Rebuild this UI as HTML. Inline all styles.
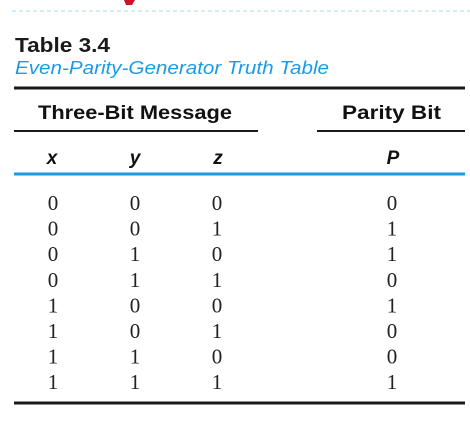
<!DOCTYPE html>
<html><head><meta charset="utf-8"><style>
html,body{margin:0;padding:0;background:#fff;width:470px;height:430px;overflow:hidden}
svg{display:block}
</style></head><body>
<svg width="470" height="430" viewBox="0 0 470 430">
  <path d="M124 0 L135 0 L132 5 L126 5 Z" fill="#d0112b"/>
  <line x1="12" y1="11" x2="470" y2="11" stroke="#a8d8e8" stroke-width="1" stroke-dasharray="4,3"/>
  <text x="15" y="52" font-family="Liberation Sans, sans-serif" font-weight="bold" font-size="20" fill="#1a1a1a" textLength="95" lengthAdjust="spacingAndGlyphs">Table 3.4</text>
  <text x="15" y="74" font-family="Liberation Sans, sans-serif" font-style="italic" font-size="18" fill="#1a9be8" textLength="314" lengthAdjust="spacingAndGlyphs">Even-Parity-Generator Truth Table</text>
  <line x1="14" y1="88" x2="465" y2="88" stroke="#1a1a1a" stroke-width="3"/>
  <text x="38" y="119" font-family="Liberation Sans, sans-serif" font-weight="bold" font-size="19" fill="#111" textLength="194" lengthAdjust="spacingAndGlyphs">Three-Bit Message</text>
  <text x="342" y="119" font-family="Liberation Sans, sans-serif" font-weight="bold" font-size="19" fill="#111" textLength="99" lengthAdjust="spacingAndGlyphs">Parity Bit</text>
  <line x1="14" y1="131" x2="258" y2="131" stroke="#1a1a1a" stroke-width="2"/>
  <line x1="317" y1="131" x2="465" y2="131" stroke="#1a1a1a" stroke-width="2"/>
  <g font-family="Liberation Sans, sans-serif" font-weight="bold" font-style="italic" font-size="19" fill="#111" text-anchor="middle">
    <text x="52" y="164">x</text>
    <text x="135" y="164">y</text>
    <text x="218" y="164">z</text>
    <text x="393" y="164">P</text>
  </g>
  <line x1="14" y1="174" x2="465" y2="174" stroke="#1a9be8" stroke-width="3"/>
  <g id="rows" font-family="Liberation Serif, serif" font-size="21" fill="#222" text-anchor="middle"></g>
  <line x1="14" y1="403" x2="465" y2="403" stroke="#1a1a1a" stroke-width="3"/>
</svg>
<script>
const xVals=[0,0,0,0,1,1,1,1];
const yVals=[0,0,1,1,0,0,1,1];
const zVals=[0,1,0,1,0,1,0,1];
const pVals=[0,1,1,0,1,0,0,1];
const g=document.getElementById('rows');
const cols=[[xVals,53,'x'],[yVals,135,'y'],[zVals,217,'z'],[pVals,392,'p']];
for(let i=0;i<8;i++){
  const yy=210+i*25.6;
  cols.forEach(c=>{
    const t=document.createElementNS('http://www.w3.org/2000/svg','text');
    t.setAttribute('x',c[1]);t.setAttribute('y',yy.toFixed(1));
    t.textContent=c[0][i];
    
    
    g.appendChild(t);
  });
}
</script>
</body></html>
